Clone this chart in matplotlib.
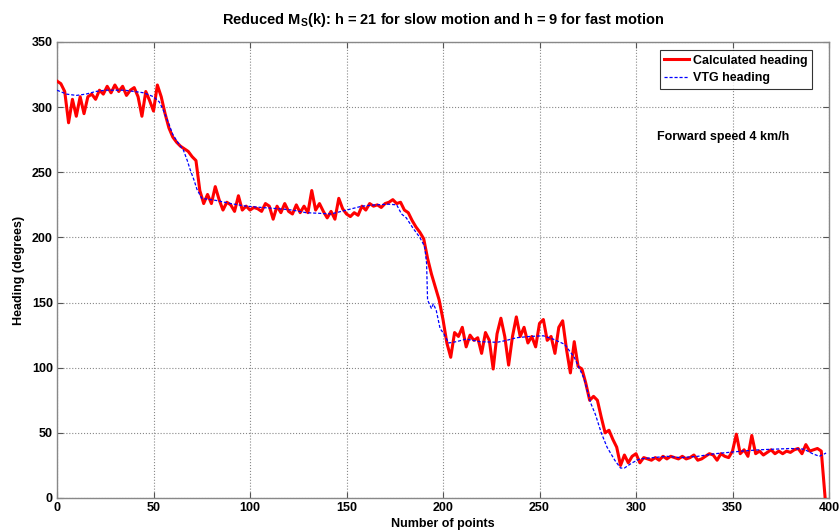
import numpy as np
import matplotlib
matplotlib.use("Agg")
import matplotlib.pyplot as plt

# ---- data ----
red_x = list(range(0, 400, 2))
red_y = [320, 318, 312, 288, 306, 293, 308, 295, 308, 310,
         306, 313, 310, 316, 311, 317, 312, 316, 309, 313,
         315, 308, 293, 312, 305, 297, 317, 308, 295, 284,
         277, 273, 270, 268, 266, 262, 259, 236, 226, 233,
         226, 239, 229, 221, 227, 225, 220, 232, 221, 224,
         221, 223, 222, 220, 226, 224, 214, 224, 219, 226,
         220, 218, 225, 219, 224, 219, 236, 221, 226, 220,
         215, 220, 214, 230, 222, 218, 216, 219, 217, 224,
         221, 226, 224, 225, 223, 226, 227, 229, 226, 227,
         221, 219, 213, 208, 204, 199, 184, 172, 162, 152,
         137, 119, 108, 127, 124, 131, 116, 125, 121, 123,
         111, 127, 121, 99, 126, 138, 124, 102, 124, 139,
         124, 131, 119, 124, 116, 134, 137, 121, 124, 111,
         131, 136, 114, 96, 120, 101, 99, 88, 75, 78,
         75, 62, 50, 52, 45, 39, 25, 33, 27, 32,
         34, 27, 31, 30, 29, 31, 29, 32, 30, 32,
         31, 30, 32, 30, 31, 33, 29, 30, 32, 34,
         33, 29, 34, 32, 31, 36, 49, 34, 37, 32,
         48, 34, 36, 33, 35, 37, 34, 36, 34, 36,
         35, 37, 38, 34, 41, 36, 37, 38, 36, 0]

blue_x = [0, 5, 10, 15, 20, 25, 30, 35, 40, 45, 50, 53, 55, 58, 60, 63, 65.5, 67.5,
          69, 71, 72.5, 75, 82, 90, 98, 106, 115, 122, 129, 136, 142, 150, 158, 165,
          172, 176, 178.5, 181, 184.5, 188, 190.5, 191.5, 192, 194, 195, 196.5, 198.5,
          200, 203, 207, 212, 219, 228, 233, 238, 245, 252, 257, 263, 268, 273, 276.5,
          279, 282, 285, 289, 292, 294, 298, 302, 309, 316, 323, 332, 341, 348, 355,
          364, 372, 380, 387, 391.5, 395, 398.5]
blue_y = [313, 310, 309, 310, 312, 313, 313, 313, 312, 311, 308, 304, 298, 287, 279, 272, 267, 259,
          252, 244, 237, 230, 228.5, 226, 224, 223, 222, 221, 219, 218.5, 218, 221, 224, 225,
          225.5, 225, 218, 215, 207, 200, 193, 180, 152, 145.5, 149, 144, 130,
          127, 119, 120, 122, 120, 119.5, 121, 123, 124, 124.5, 122, 118, 108, 92, 73,
          64, 50, 39, 29, 23, 23, 27, 30, 31, 32, 31, 32, 34, 35, 36,
          37, 37.5, 38, 37.5, 34, 32, 34.5]

x_ticks = [0, 50, 100, 150, 200, 250, 300, 350, 400]
y_ticks = [0, 50, 100, 150, 200, 250, 300, 350]

# ---- style ----
plt.rcParams['font.family'] = ['Liberation Sans', 'DejaVu Sans']
plt.rcParams['font.weight'] = 'bold'
plt.rcParams['mathtext.fontset'] = 'custom'
plt.rcParams['mathtext.rm'] = 'Liberation Sans:bold'
plt.rcParams['mathtext.it'] = 'Liberation Sans:bold'
plt.rcParams['mathtext.bf'] = 'Liberation Sans:bold'

fig = plt.figure(figsize=(8.39, 5.31), dpi=100)
ax = fig.add_axes([57/839, 33/531, 772/839, 456/531])

ax.plot(red_x, red_y, color='#ff0000', lw=2.2, label='Calculated heading', zorder=3)
ax.plot(blue_x, blue_y, color='#0000ff', lw=0.9, ls=(0, (2.5, 1.5)), label='VTG heading', zorder=4)

ax.set_xlim(0, 400)
ax.set_ylim(0, 350)
ax.set_xticks(x_ticks)
ax.set_yticks(y_ticks)
ax.tick_params(direction='in', length=4, top=True, right=True, labelsize=9, pad=3,
               color='#555555')
for lab in ax.get_xticklabels() + ax.get_yticklabels():
    lab.set_fontweight('bold')
ax.grid(True, ls=':', color='#888888', lw=0.8)
for s in ax.spines.values():
    s.set_color('#888888')
    s.set_linewidth(1.0)

ax.set_xlabel('Number of points', fontsize=9, fontweight='bold', labelpad=3)
ax.set_ylabel('Heading (degrees)', fontsize=9, fontweight='bold', labelpad=5)
ax.set_title(r'Reduced M$_\mathrm{S}$(k): h = 21 for slow motion and h = 9 for fast motion',
             fontsize=10.5, fontweight='bold', pad=13)

leg = ax.legend(loc='upper right', bbox_to_anchor=(0.978, 0.982), fontsize=9,
                frameon=True, fancybox=False, borderpad=0.35, handlelength=2.0,
                handletextpad=0.3, labelspacing=0.45, borderaxespad=0)
leg.get_frame().set_edgecolor('#000000')
leg.get_frame().set_linewidth(0.8)
for t in leg.get_texts():
    t.set_fontweight('bold')

ax.text(311, 277, 'Forward speed 4 km/h', fontsize=9, fontweight='bold',
        ha='left', va='center')

fig.savefig('out.png', dpi=100)
